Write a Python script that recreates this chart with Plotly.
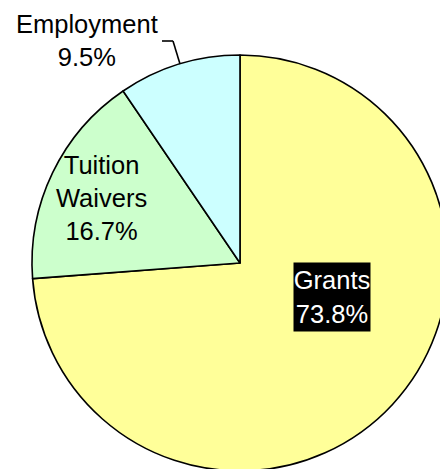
import plotly.graph_objects as go

# Financial aid breakdown by source
labels = ["Grants", "Tuition Waivers", "Employment"]
shares = [73.8, 16.7, 9.5]
colors = ["#FFFF99", "#CCFFCC", "#CCFFFF"]

FONT = "Liberation Sans, Arial, sans-serif"
FS = 25.5
W, H = 460, 480
L, T, D = 32, 55, 416  # left/top offset and pie diameter in px
R, B = W - L - D, H - T - D


def px(x, y):
    """Pixel position -> paper coordinates."""
    return (x - L) / D, (T + D - y) / D


fig = go.Figure(
    go.Pie(
        labels=labels,
        values=shares,
        sort=False,
        direction="clockwise",
        rotation=0,
        marker=dict(colors=colors, line=dict(color="black", width=1.6)),
        textinfo="none",
        hoverinfo="label+percent",
        domain=dict(x=[0, 1], y=[0, 1]),
    )
)

common = dict(xref="paper", yref="paper", showarrow=False,
              xanchor="center", yanchor="middle", align="center")
ann = []
# Grants: white text on a black box
gx, gy = px(332, 297)
ann.append(dict(x=gx, y=gy, text=f"{labels[0]}<br>{shares[0]:.1f}%",
                font=dict(family=FONT, size=FS, color="white"),
                bgcolor="black", borderpad=0, width=76, height=68, **common))
# Tuition waivers
tx, ty = px(101, 198)
ann.append(dict(x=tx, y=ty, text="Tuition<br>Waivers<br>" + f"{shares[1]:.1f}%",
                font=dict(family=FONT, size=FS, color="black"), **common))
# Employment, placed outside with a leader line
ex, ey = px(87, 41)
ann.append(dict(x=ex, y=ey, text=f"{labels[2]}<br>{shares[2]:.1f}%",
                font=dict(family=FONT, size=FS, color="black"), **common))

p0, p1, p2 = px(162, 41), px(173, 41), px(180, 64)
shapes = [
    dict(type="line", xref="paper", yref="paper", x0=p0[0], y0=p0[1], x1=p1[0], y1=p1[1],
         line=dict(color="black", width=1.6)),
    dict(type="line", xref="paper", yref="paper", x0=p1[0], y0=p1[1], x1=p2[0], y1=p2[1],
         line=dict(color="black", width=1.6)),
]

fig.update_layout(
    width=W, height=H,
    margin=dict(l=L, r=R, t=T, b=B, pad=0),
    showlegend=False,
    paper_bgcolor="white",
    plot_bgcolor="white",
    annotations=ann,
    shapes=shapes,
    font=dict(family=FONT),
)

fig.write_html(
    "out.html",
    config={"displayModeBar": False},
    post_script="document.documentElement.style.overflow='hidden';"
                "document.body.style.overflow='hidden';document.body.style.margin='0';",
)
